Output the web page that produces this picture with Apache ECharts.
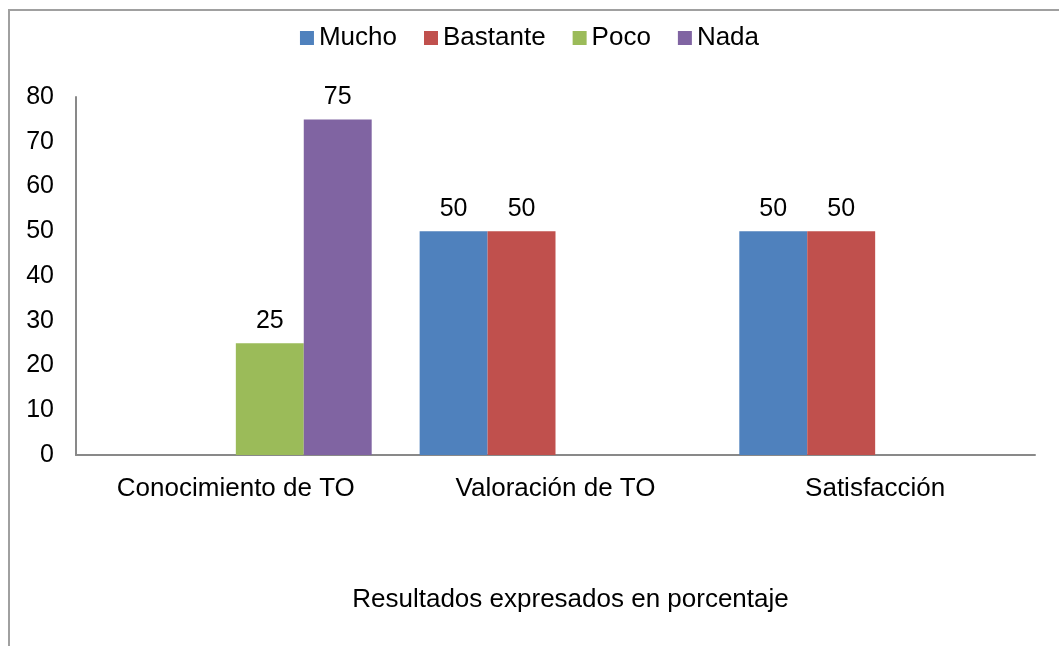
<!DOCTYPE html>
<html>
<head>
<meta charset="utf-8">
<script src="https://cdn.jsdelivr.net/npm/echarts@6/dist/echarts.min.js"></script>
<style>
  html, body { margin: 0; padding: 0; background: #fff; }
  #chart { width: 1059px; height: 646px; }
</style>
</head>
<body>
<div id="chart"></div>
<script>
// categorias y series
var categorias = ["Conocimiento de TO", "Valoración de TO", "Satisfacción"];
var mucho = [0, 50, 50];
var bastante = [0, 50, 50];
var poco = [25, 0, 0];
var nada = [75, 0, 0];
var colores = ["#4F81BD", "#C0504D", "#9BBB59", "#8064A2"];

var fuente = "'Liberation Sans', Arial, sans-serif";

function serie(nombre, datos) {
  return {
    name: nombre,
    type: "bar",
    data: datos,
    barGap: "0%",
    barCategoryGap: "15%",
    label: {
      show: true,
      position: "top",
      distance: 10,
      color: "#000",
      fontFamily: fuente,
      fontSize: 25,
      formatter: function (p) {
        return p.value === 0 ? "" : p.value;
      }
    }
  };
}

var chart = echarts.init(document.getElementById("chart"));
var option = {
  animation: false,
  color: colores,
  graphic: [
    {
      type: "rect",
      shape: { x: 9, y: 10, width: 1200, height: 800 },
      style: { fill: "none", stroke: "#a0a0a0", lineWidth: 2 },
      silent: true
    }
  ],
  legend: {
    top: 20,
    left: "center",
    itemWidth: 14,
    itemHeight: 14,
    itemGap: 27,
    icon: "rect",
    textStyle: { fontFamily: fuente, fontSize: 26, color: "#000" },
    data: ["Mucho", "Bastante", "Poco", "Nada"]
  },
  grid: { left: 76, right: 24, top: 97, bottom: 191, containLabel: false },
  xAxis: {
    type: "category",
    data: categorias,
    name: "Resultados expresados en porcentaje",
    nameLocation: "middle",
    nameGap: 132,
    nameTextStyle: { fontFamily: fuente, fontSize: 26, color: "#000", padding: [0, 0, 0, 30] },
    axisLine: { lineStyle: { color: "#898989", width: 2 } },
    axisTick: { show: false },
    axisLabel: { fontFamily: fuente, fontSize: 26, color: "#000", margin: 21 }
  },
  yAxis: {
    type: "value",
    min: 0,
    max: 80,
    interval: 10,
    axisLine: { show: true, lineStyle: { color: "#898989", width: 2 } },
    axisTick: { show: false },
    splitLine: { show: false },
    axisLabel: { fontFamily: fuente, fontSize: 25, color: "#000", margin: 22 }
  },
  series: [
    serie("Mucho", mucho),
    serie("Bastante", bastante),
    serie("Poco", poco),
    serie("Nada", nada)
  ]
};
chart.setOption(option);
</script>
</body>
</html>
